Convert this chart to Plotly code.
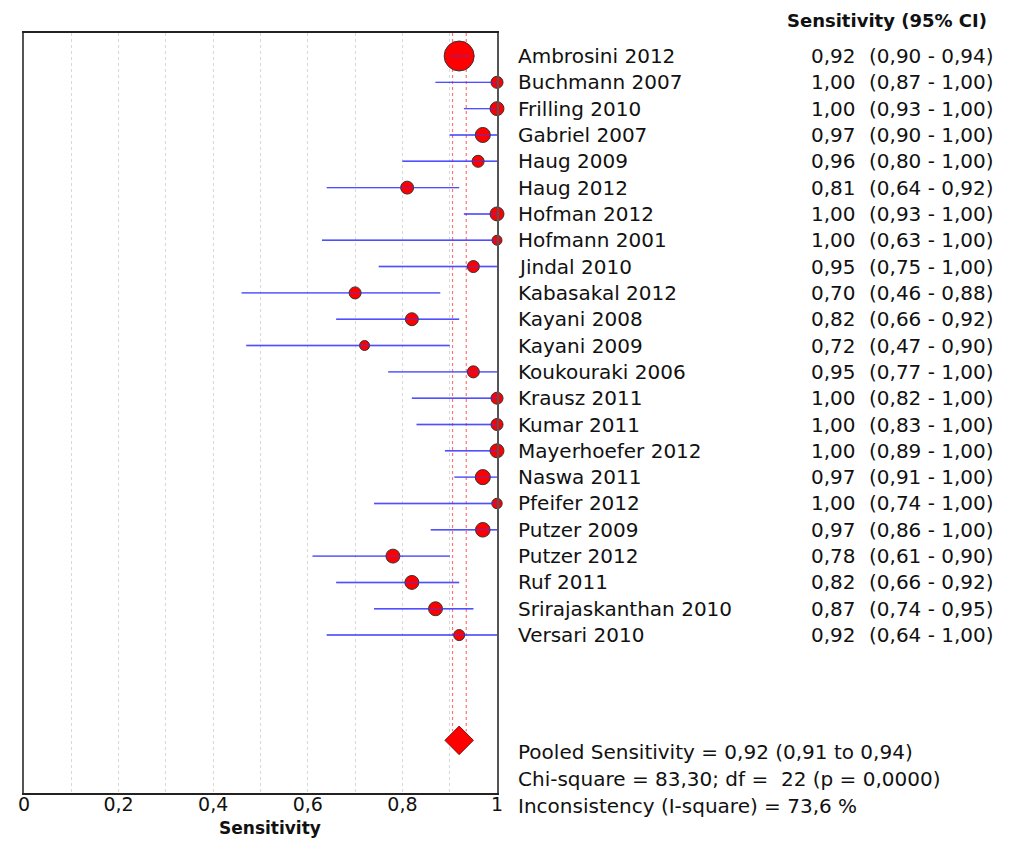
import plotly.graph_objects as go

studies = ["Ambrosini 2012", "Buchmann 2007", "Frilling 2010", "Gabriel 2007", "Haug 2009",
           "Haug 2012", "Hofman 2012", "Hofmann 2001", "Jindal 2010", "Kabasakal 2012",
           "Kayani 2008", "Kayani 2009", "Koukouraki 2006", "Krausz 2011", "Kumar 2011",
           "Mayerhoefer 2012", "Naswa 2011", "Pfeifer 2012", "Putzer 2009", "Putzer 2012",
           "Ruf 2011", "Srirajaskanthan 2010", "Versari 2010"]
sens = [0.92, 1.00, 1.00, 0.97, 0.96, 0.81, 1.00, 1.00, 0.95, 0.70, 0.82, 0.72, 0.95,
        1.00, 1.00, 1.00, 0.97, 1.00, 0.97, 0.78, 0.82, 0.87, 0.92]
ci_low = [0.90, 0.87, 0.93, 0.90, 0.80, 0.64, 0.93, 0.63, 0.75, 0.46, 0.66, 0.47, 0.77,
          0.82, 0.83, 0.89, 0.91, 0.74, 0.86, 0.61, 0.66, 0.74, 0.64]
ci_high = [0.94, 1.00, 1.00, 1.00, 1.00, 0.92, 1.00, 1.00, 1.00, 0.88, 0.92, 0.90, 1.00,
           1.00, 1.00, 1.00, 1.00, 1.00, 1.00, 0.90, 0.92, 0.95, 1.00]
weights = [19.9, 3.2, 4.3, 5.0, 3.2, 3.7, 4.3, 2.2, 3.2, 3.2, 3.7, 2.2, 3.2, 3.2, 3.2,
           4.3, 5.0, 2.4, 4.7, 4.3, 4.3, 4.3, 2.7]
pooled = 0.92
pooled_low = 0.906
pooled_high = 0.935
summary_lines = ["Pooled Sensitivity = 0,92 (0,91 to 0,94)",
                 "Chi-square = 83,30; df =  22 (p = 0,0000)",
                 "Inconsistency (I-square) = 73,6 %"]
tick_vals = [0, 0.2, 0.4, 0.6, 0.8, 1]
tick_text = ["0", "0,2", "0,4", "0,6", "0,8", "1"]


def fmt(v):
    return f"{v:.2f}".replace(".", ",")


OFF = 8  # page body margin: keep the page inside the 1010x847 window
W, H = 1010 - 2 * OFF, 847 - 2 * OFF
# plot box in window pixels
L, R, T, B = 18, 497, 33, 793
n = len(studies)
rows = list(range(n))
pooled_row = 26
y_top, y_bot = -0.874, 28.0

FONT = "DejaVu Sans, Arial, sans-serif"
TXT = "#111111"
fig = go.Figure()


def xp(px):
    return (px - L) / (R - L)


def yp(py):
    return (B - py) / (B - T)


# pooled CI reference lines
for xv in (pooled_low, pooled_high):
    fig.add_trace(go.Scatter(x=[xv, xv], y=[y_top, pooled_row - 0.35], mode="lines",
                             line=dict(color="rgba(255,70,70,0.75)", width=1.2, dash="dot"),
                             hoverinfo="skip", showlegend=False))

# CI whiskers (under markers)
for i in rows:
    fig.add_trace(go.Scatter(x=[ci_low[i], ci_high[i]], y=[i, i], mode="lines",
                             line=dict(color="rgba(60,60,255,0.8)", width=1.4),
                             hoverinfo="skip", showlegend=False, cliponaxis=False))

k = 30 / (19.9 ** 0.5)
sizes = [k * (w ** 0.5) for w in weights]
fig.add_trace(go.Scatter(x=sens, y=rows, mode="markers",
                         marker=dict(size=sizes, color="#ff0000", opacity=1,
                                     line=dict(color="#333333", width=1)),
                         showlegend=False, cliponaxis=False))

# whiskers again, faint, visible through the points
for i in rows:
    fig.add_trace(go.Scatter(x=[ci_low[i], ci_high[i]], y=[i, i], mode="lines",
                             line=dict(color="rgba(60,60,255,0.5)", width=1.4),
                             hoverinfo="skip", showlegend=False, cliponaxis=False))

fig.add_trace(go.Scatter(x=[pooled], y=[pooled_row], mode="markers",
                         marker=dict(symbol="diamond", size=22, color="#ff0000", opacity=1,
                                     line=dict(color="#660000", width=0.8)),
                         showlegend=False, cliponaxis=False))

fs = 20
for i in rows:
    fig.add_annotation(x=xp(516), y=i, xref="paper", yref="y", text=studies[i],
                       showarrow=False, xanchor="left", yanchor="middle",
                       font=dict(family=FONT, size=fs, color=TXT))
    fig.add_annotation(x=xp(813), y=i, xref="paper", yref="y", text=fmt(sens[i]),
                       showarrow=False, xanchor="left", yanchor="middle",
                       font=dict(family=FONT, size=fs, color=TXT))
    fig.add_annotation(x=xp(872), y=i, xref="paper", yref="y",
                       text=f"({fmt(ci_low[i])} - {fmt(ci_high[i])})",
                       showarrow=False, xanchor="left", yanchor="middle",
                       font=dict(family=FONT, size=fs, color=TXT))

fig.add_annotation(x=xp(789), y=yp(20), xref="paper", yref="paper",
                   text="<b>Sensitivity (95% CI)</b>", showarrow=False,
                   xanchor="left", yanchor="middle",
                   font=dict(family=FONT, size=18, color=TXT))

for j, line in enumerate(summary_lines):
    fig.add_annotation(x=xp(516), y=yp(752 + j * 27), xref="paper", yref="paper", text=line,
                       showarrow=False, xanchor="left", yanchor="middle",
                       font=dict(family=FONT, size=fs, color=TXT))

# axis title, placed so that it stays inside the page
fig.add_annotation(x=xp(267), y=yp(828), xref="paper", yref="paper",
                   text="<b>Sensitivity</b>", showarrow=False,
                   xanchor="center", yanchor="middle",
                   font=dict(family=FONT, size=17, color=TXT))

fig.update_layout(
    width=W, height=H,
    margin=dict(l=L - OFF, r=W - (R - OFF), t=T - OFF, b=H - (B - OFF), pad=0),
    paper_bgcolor="white", plot_bgcolor="white",
    font=dict(family=FONT, size=fs, color=TXT),
    xaxis=dict(range=[0, 1], tickvals=tick_vals, ticktext=tick_text,
               showgrid=True, gridcolor="#d8d8d8", griddash="dot", gridwidth=1,
               zeroline=False, showline=True, linecolor="#222222",
               linewidth=1.5, mirror=True, ticks="", ticklen=0,
               ticklabelstandoff=-7,
               tickfont=dict(family=FONT, size=19, color=TXT),
               minor=dict(dtick=0.1, tick0=0, showgrid=True, gridcolor="#d8d8d8",
                          griddash="dot")),
    yaxis=dict(range=[y_bot, y_top], showgrid=False, zeroline=False, showticklabels=False,
               showline=True, linecolor="#555555", linewidth=1.5, mirror=True, ticks=""),
)

fig.write_html("out.html")
